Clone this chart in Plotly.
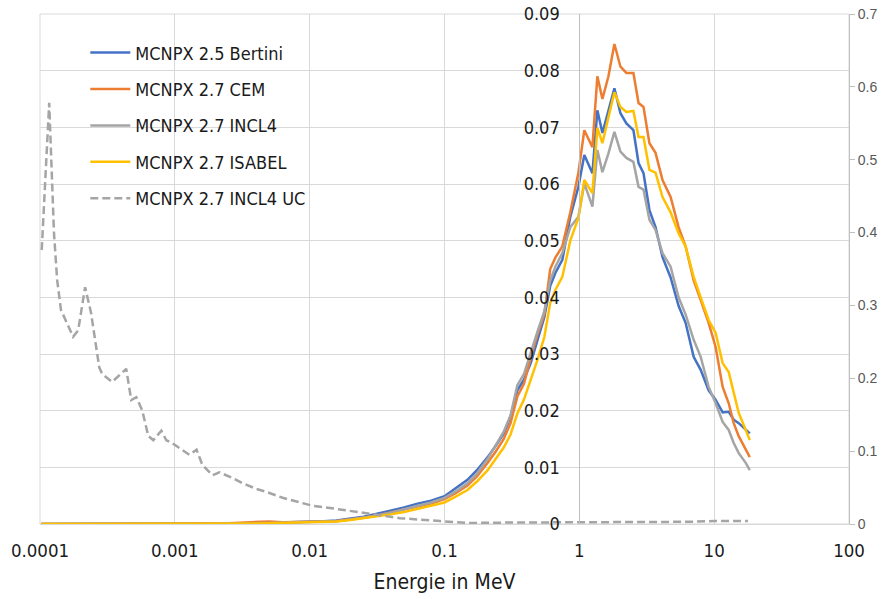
import plotly.graph_objects as go

# Energy grid (MeV) for the four model spectra
energy_mev = [0.000102, 0.000158, 0.000251, 0.000398, 0.000631, 0.001, 0.00158, 0.00251,
              0.00398, 0.00501, 0.00631, 0.00794, 0.01, 0.0126, 0.0158, 0.02, 0.0251, 0.0316,
              0.0398, 0.0501, 0.0631, 0.0794, 0.1,
              0.120, 0.148, 0.174, 0.209, 0.240, 0.275, 0.309, 0.347, 0.389, 0.437, 0.490, 0.550,
              0.608, 0.664, 0.748, 0.857, 0.984, 1.089, 1.250, 1.361, 1.483, 1.644, 1.820, 2.018,
              2.234, 2.518, 2.748, 2.992, 3.311, 3.673, 4.140, 4.753, 5.445, 6.138, 7.047, 7.943,
              9.099, 10.26, 11.56, 12.82, 13.96, 15.21, 17.14, 18.37]

bertini = [0, 0, 0.00005, 0.00005, 0.00005, 0.00005, 0.0001, 0.0001, 0.00015, 0.0002, 0.00025,
           0.0003, 0.00035, 0.0005, 0.0006, 0.0009, 0.0013, 0.0018, 0.0023, 0.0029, 0.0036, 0.0041, 0.0049,
           0.0062, 0.0078, 0.0095, 0.0118, 0.0138, 0.0160, 0.0189, 0.0236, 0.0255, 0.0285, 0.0325, 0.0365,
           0.042, 0.0443, 0.0466, 0.0542, 0.0595, 0.0651, 0.0619, 0.073, 0.069, 0.073, 0.0769, 0.0725,
           0.0707, 0.0695, 0.0637, 0.0619, 0.0554, 0.0524, 0.0471, 0.0435, 0.0385, 0.0355, 0.0295, 0.0272,
           0.0236, 0.0219, 0.0197, 0.0198, 0.0184, 0.0178, 0.0166, 0.016]

cem = [0, 0, 0.00005, 0.00005, 0.00005, 0.00005, 0.0001, 0.00015, 0.0003, 0.00045, 0.0003,
       0.00035, 0.0003, 0.00045, 0.00055, 0.0008, 0.0011, 0.0015, 0.002, 0.0026, 0.0031, 0.0036, 0.0044,
       0.0054, 0.0068, 0.0084, 0.0108, 0.0128, 0.0150, 0.0178, 0.0225, 0.0248, 0.0295, 0.0335, 0.0370,
       0.045, 0.047, 0.049, 0.055, 0.062, 0.0695, 0.0665, 0.079, 0.075, 0.079, 0.0847, 0.0807,
       0.0796, 0.0796, 0.0743, 0.0736, 0.0672, 0.0655, 0.0607, 0.0577, 0.0524, 0.049, 0.043, 0.0395,
       0.0355, 0.0312, 0.0242, 0.0213, 0.0178, 0.0155, 0.013, 0.0118]

incl4 = [0, 0, 0.00005, 0.00005, 0.00005, 0.00005, 0.0001, 0.0001, 0.00015, 0.0002, 0.0002,
         0.00025, 0.0003, 0.0004, 0.0005, 0.0008, 0.0011, 0.0015, 0.002, 0.0026, 0.0033, 0.0038, 0.0046,
         0.0057, 0.0072, 0.0089, 0.0115, 0.0138, 0.0163, 0.0192, 0.0245, 0.0265, 0.0305, 0.0340, 0.0375,
         0.043, 0.0454, 0.0478, 0.0524, 0.0542, 0.0601, 0.056, 0.066, 0.0621, 0.0654, 0.0692, 0.0657,
         0.0646, 0.0639, 0.0595, 0.059, 0.0537, 0.0519, 0.0478, 0.0454, 0.040, 0.037, 0.0325, 0.0295,
         0.0242, 0.0213, 0.018, 0.0166, 0.0143, 0.0125, 0.0108, 0.0095]

isabel = [0, 0, 0.00005, 0.00005, 0.00005, 0.00005, 0.0001, 0.0001, 0.0001, 0.00015, 0.0002,
          0.0002, 0.00025, 0.00035, 0.00045, 0.0007, 0.001, 0.0013, 0.0017, 0.0021, 0.0027, 0.0032, 0.0038,
          0.0048, 0.0060, 0.0075, 0.0095, 0.0115, 0.0135, 0.0158, 0.0195, 0.0220, 0.0254, 0.0290, 0.0330,
          0.039, 0.0413, 0.0436, 0.050, 0.054, 0.0607, 0.0584, 0.0699, 0.0672, 0.0718, 0.0762, 0.0736,
          0.0727, 0.0729, 0.0683, 0.0683, 0.0625, 0.062, 0.0577, 0.055, 0.0513, 0.049, 0.0436, 0.040,
          0.036, 0.0337, 0.0284, 0.0268, 0.0231, 0.0196, 0.0166, 0.0148]

# INCL4 UC (secondary axis)
energy_uc_mev = [0.000103, 0.000117, 0.000127, 0.000134, 0.000143, 0.000176, 0.000192, 0.000216,
                 0.000239, 0.000275, 0.000289, 0.000343, 0.000436, 0.000475, 0.000518, 0.000573,
                 0.000635, 0.000692, 0.000794, 0.000865, 0.000957, 0.00128, 0.00145, 0.00160,
                 0.00190, 0.00214, 0.00268, 0.00318, 0.00404, 0.00479, 0.00630, 0.00843, 0.0105,
                 0.0141, 0.0236, 0.0467, 0.0927, 0.155, 0.316, 1.0, 3.16, 6.31, 10.0, 17.8]
incl4_uc = [0.376, 0.578, 0.399, 0.335, 0.294, 0.257, 0.266, 0.325, 0.290, 0.215, 0.206, 0.195,
            0.213, 0.170, 0.174, 0.156, 0.121, 0.115, 0.128, 0.115, 0.111, 0.095, 0.102, 0.081,
            0.067, 0.071, 0.063, 0.056, 0.048, 0.044, 0.036, 0.030, 0.025, 0.022, 0.016, 0.008,
            0.004, 0.0014, 0.002, 0.002, 0.002, 0.003, 0.004, 0.004]

x_tickvals = [0.0001, 0.001, 0.01, 0.1, 1, 10, 100]
x_ticktext = ["0.0001", "0.001", "0.01", "0.1", "1", "10", "100"]

FONT = "Liberation Sans Narrow, DejaVu Sans Condensed, Roboto, sans-serif"
GRID = "#D9D9D9"

fig = go.Figure()
series = [
    ("MCNPX 2.5 Bertini", bertini, "#4472C4"),
    ("MCNPX 2.7 CEM", cem, "#ED7D31"),
    ("MCNPX 2.7 INCL4", incl4, "#A5A5A5"),
    ("MCNPX 2.7 ISABEL", isabel, "#FFC000"),
]
for name, vals, col in series:
    fig.add_trace(go.Scatter(x=energy_mev, y=vals, name=name, mode="lines",
                             line=dict(color=col, width=2.5), legendgroup=name))
fig.add_trace(go.Scatter(x=energy_uc_mev, y=incl4_uc, name="MCNPX 2.7 INCL4 UC", mode="lines",
                         line=dict(color="#A5A5A5", width=2.5, dash="8px,4px"),
                         yaxis="y2", legendgroup="uc"))

fig.update_layout(
    width=890, height=599,
    margin=dict(l=40, r=41, t=14, b=75, autoexpand=False),
    paper_bgcolor="white", plot_bgcolor="white",
    font=dict(family=FONT, color="#1a1a1a", size=18),
    showlegend=True,
    legend=dict(x=0.056, y=0.96, xanchor="left", yanchor="top",
                bgcolor="rgba(0,0,0,0)", font=dict(size=18, family=FONT, color="#1a1a1a"),
                tracegroupgap=10, itemwidth=40),
    xaxis=dict(type="log", range=[-4, 2], tickvals=x_tickvals, ticktext=x_ticktext,
               showgrid=True, gridcolor=GRID, gridwidth=1, automargin=False,
               showline=True, linecolor=GRID, zeroline=False,
               ticks="", ticklabelstandoff=10, tickfont=dict(size=18.5),
               title=dict(text="Energie in MeV", font=dict(size=21, family=FONT), standoff=14)),
    yaxis=dict(range=[0, 0.09], dtick=0.01, anchor="free", position=4/6,
               showgrid=True, gridcolor=GRID, gridwidth=1, automargin=False,
               showline=True, linecolor="#BFBFBF", zeroline=False,
               ticks="", ticklabelstandoff=16, tickfont=dict(size=18)),
    yaxis2=dict(range=[0, 0.7], dtick=0.1, overlaying="y", side="right",
                showgrid=False, showline=True, linecolor="#BFBFBF", zeroline=False,
                ticks="outside", ticklen=5, tickcolor="#BFBFBF", automargin=False,
                tickfont=dict(size=14, color="#595959", family="Liberation Sans, sans-serif")),
    shapes=[dict(type="rect", xref="paper", yref="paper", x0=0, x1=1, y0=0, y1=1,
                 line=dict(color=GRID, width=1), layer="below")],
)

fig.write_html("out.html")
